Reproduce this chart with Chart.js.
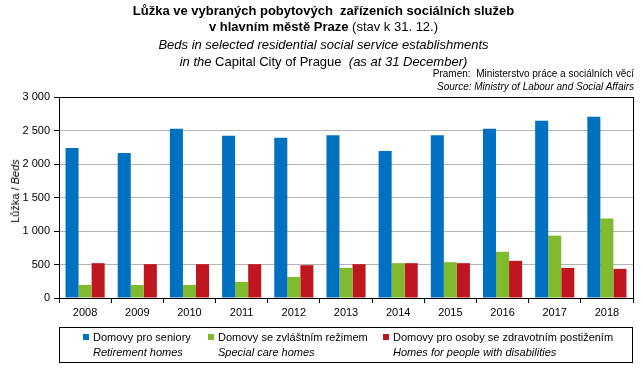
<!DOCTYPE html>
<html>
<head>
<meta charset="utf-8">
<script src="https://cdn.jsdelivr.net/npm/chart.js@4"></script>
<style>
  body { margin: 0; background: #fff; font-family: "Liberation Sans", Arial, sans-serif; }
  #wrap { position: relative; width: 643px; height: 377px; }
  #wrap canvas { position: absolute; left: 0; top: 0; }
  .t { position: absolute; white-space: nowrap; color: #000; }
  .c { left: 2px; width: 643px; text-align: center; }
  .r { right: 9px; text-align: right; font-size: 10px; }
  #ylab { position: absolute; left: 15px; top: 191px; transform: translate(-50%, -50%) rotate(-90deg); font-size: 11px; white-space: nowrap; }
  #legend { position: absolute; left: 59px; top: 327px; width: 572px; height: 34px; border: 1px solid #000; }
  .item { position: absolute; top: 2px; font-size: 11px; line-height: 15px; }
  .item .sw { position: absolute; left: -10px; top: 4px; width: 6px; height: 6px; }
  .item i { display: block; }
</style>
</head>
<body>
<div id="wrap">
  <canvas id="chart" width="643" height="377"></canvas>
  <div class="t c" style="top:3px; font-size:13px; font-weight:bold;">Lůžka ve vybraných pobytových&nbsp; zařízeních sociálních služeb</div>
  <div class="t c" style="top:19px; font-size:13px;"><b>v hlavním městě Praze</b> (stav k 31. 12.)</div>
  <div class="t c" style="top:37px; font-size:13px;"><i>Beds in selected residential social service establishments</i></div>
  <div class="t c" style="top:54px; font-size:13px;"><i>in the</i> Capital City of Prague&nbsp; <i>(as at 31 December)</i></div>
  <div class="t r" style="top:68px;">Pramen:&nbsp; Ministerstvo práce a sociálních věcí</div>
  <div class="t r" style="top:81px;"><i>Source: Ministry of Labour and Social Affairs</i></div>
  <div id="ylab">Lůžka / <i>Beds</i></div>
  <div id="legend"></div>
</div>
<script>
// Data
const years = ['2008', '2009', '2010', '2011', '2012', '2013', '2014', '2015', '2016', '2017', '2018'];
const retirementHomes = [2240, 2165, 2525, 2420, 2390, 2430, 2195, 2430, 2525, 2645, 2705];
const specialCareHomes = [195, 195, 195, 240, 315, 450, 520, 535, 690, 930, 1185];
const disabilityHomes = [520, 505, 505, 505, 490, 505, 520, 520, 555, 450, 435];
const seriesNames = ['Domovy pro seniory', 'Domovy se zvláštním režimem', 'Domovy pro osoby se zdravotním postižením'];
const seriesNamesEn = ['Retirement homes', 'Special care homes', 'Homes for people with disabilities'];
const colors = ['#0070C0', '#7FBA2F', '#C0161F'];
const yTicks = [0, 500, 1000, 1500, 2000, 2500, 3000];

// Legend (HTML)
const legendX = [33, 158, 333];
const legend = document.getElementById('legend');
seriesNames.forEach(function (name, i) {
    const el = document.createElement('div');
    el.className = 'item';
    el.style.left = legendX[i] + 'px';
    el.innerHTML = '<span class="sw" style="background:' + colors[i] + '"></span>' + name + '<i>' + seriesNamesEn[i] + '</i>';
    legend.appendChild(el);
});

const fmt = function (v) { return String(v).replace(/\B(?=(\d{3})+(?!\d))/g, ' '); };

// Frame round the plot area
const frame = {
    id: 'frame',
    afterDraw: function (chart) {
        const a = chart.chartArea;
        const ctx = chart.ctx;
        ctx.save();
        ctx.strokeStyle = '#000';
        ctx.lineWidth = 1;
        ctx.strokeRect(Math.round(a.left) + 0.5, Math.round(a.top) + 0.5, Math.round(a.right - a.left), Math.round(a.bottom - a.top));
        ctx.restore();
    }
};

const ctx = document.getElementById('chart').getContext('2d');
new Chart(ctx, {
    type: 'bar',
    data: {
        labels: years,
        datasets: [
            { label: seriesNames[0], data: retirementHomes, backgroundColor: colors[0] },
            { label: seriesNames[1], data: specialCareHomes, backgroundColor: colors[1] },
            { label: seriesNames[2], data: disabilityHomes, backgroundColor: colors[2] },
        ],
    },
    options: {
        responsive: false,
        animation: false,
        layout: { padding: { top: 97, right: 10, bottom: 54, left: 0 } },
        datasets: { bar: { categoryPercentage: 0.75, barPercentage: 1.0 } },
        plugins: {
            legend: { display: false },
            title: { display: false },
            tooltip: { enabled: false },
        },
        scales: {
            x: {
                afterFit: function (s) { s.height = 25; },
                grid: { display: true, offset: true, drawOnChartArea: false, drawTicks: true, tickLength: 5, color: '#000' },
                border: { display: true, color: '#000' },
                ticks: { color: '#000', font: { family: 'Liberation Sans', size: 11 }, padding: 3, maxRotation: 0 },
            },
            y: {
                min: 0,
                max: 3000,
                afterFit: function (s) { s.width = 59; },
                afterBuildTicks: function (s) { s.ticks = yTicks.map(function (v) { return { value: v }; }); },
                grid: { color: '#b4b4b4', tickColor: '#000', tickLength: 5 },
                border: { display: true, color: '#000' },
                ticks: { color: '#000', font: { family: 'Liberation Sans', size: 11 }, padding: 4, callback: fmt },
            },
        },
    },
    plugins: [frame],
});
</script>
</body>
</html>
